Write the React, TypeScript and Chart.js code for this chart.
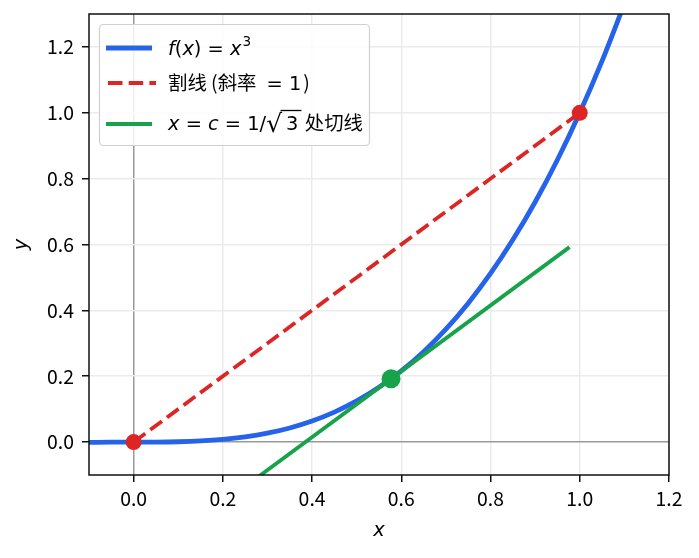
import React, { useEffect, useRef } from 'react';
import { Chart, registerables } from 'chart.js';
Chart.register(...registerables);

// f(x) = x^3
const curveX = [-0.1, -0.05, 0, 0.05, 0.1, 0.15, 0.2, 0.25, 0.3, 0.35, 0.4, 0.45, 0.5, 0.55, 0.6, 0.65, 0.7, 0.75, 0.8, 0.85, 0.9, 0.95, 1.0, 1.05, 1.1];
const curveY = [-0.001, -0.000125, 0, 0.000125, 0.001, 0.003375, 0.008, 0.015625, 0.027, 0.042875, 0.064, 0.091125, 0.125, 0.166375, 0.216, 0.274625, 0.343, 0.421875, 0.512, 0.614125, 0.729, 0.857375, 1.0, 1.157625, 1.331];
const secantX = [0, 1];
const secantY = [0, 1];
const tangentX = [0.177, 0.977];
const tangentY = [-0.208, 0.592];
const tangentPtX = [0.577];
const tangentPtY = [0.192];
const xTicks = [0, 0.2, 0.4, 0.6, 0.8, 1.0, 1.2];
const yTicks = [0, 0.2, 0.4, 0.6, 0.8, 1.0, 1.2];
const xTitle = 'x';
const yTitle = 'y';
const legendRow2a = '割线 (斜率';
const legendRow2b = ' = 1';
const legendRow2c = ')';
const legendRow3Tail = ' 处切线';

const BLUE = '#2563eb';
const RED = '#dc2626';
const GREEN = '#16a34a';
const CJK = '"Noto Sans CJK SC", "Noto Sans", sans-serif';
const MATH = '"DejaVu Sans", sans-serif';
const FS = 19.4;

const pts = (xs: number[], ys: number[]) => xs.map((x, i) => ({ x, y: ys[i] }));

type Seg = { t: string; f: string; dy?: number; over?: boolean; pre?: number };

function drawSegs(ctx: CanvasRenderingContext2D, segs: Seg[], x: number, y: number) {
  let cx = x;
  for (const s of segs) {
    const before = cx;
    cx += s.pre || 0;
    ctx.font = s.f;
    const w = ctx.measureText(s.t).width;
    ctx.fillText(s.t, cx, y + (s.dy || 0));
    if (s.over) {
      ctx.save();
      ctx.strokeStyle = '#000';
      ctx.lineWidth = 1.3;
      ctx.beginPath();
      ctx.moveTo(before - 1.5, y - 19.5);
      ctx.lineTo(cx + w + 3, y - 19.5);
      ctx.stroke();
      ctx.restore();
    }
    cx += w;
  }
}

const framePlugin = {
  id: 'frame',
  afterDraw(chart: any) {
    const { ctx, chartArea: a } = chart;
    ctx.save();
    ctx.strokeStyle = '#111';
    ctx.lineWidth = 1.5;
    ctx.strokeRect(a.left, a.top, a.right - a.left, a.bottom - a.top);

    // legend
    const bx = 99, by = 24, bw = 270, bh = 121, r = 4;
    ctx.fillStyle = 'rgba(255,255,255,0.85)';
    ctx.strokeStyle = '#d0d0d0';
    ctx.lineWidth = 1.2;
    ctx.beginPath();
    ctx.roundRect(bx + 0.5, by + 0.5, bw, bh, r);
    ctx.fill();
    ctx.stroke();

    const lx0 = 106, lx1 = 152, tx = 168;
    const rows = [48, 83, 124];
    ctx.lineCap = 'butt';
    ctx.lineWidth = 4.8;
    ctx.strokeStyle = BLUE;
    ctx.beginPath(); ctx.moveTo(lx0, rows[0]); ctx.lineTo(lx1, rows[0]); ctx.stroke();
    ctx.lineWidth = 3.8;
    ctx.strokeStyle = RED;
    ctx.setLineDash([14.5, 6.2]);
    ctx.beginPath(); ctx.moveTo(lx0 + 2, rows[1]); ctx.lineTo(lx1 + 4, rows[1]); ctx.stroke();
    ctx.setLineDash([]);
    ctx.strokeStyle = GREEN;
    ctx.beginPath(); ctx.moveTo(lx0, rows[2]); ctx.lineTo(lx1, rows[2]); ctx.stroke();

    ctx.fillStyle = '#000';
    ctx.textBaseline = 'alphabetic';
    ctx.textAlign = 'left';
    const it = `italic ${FS}px ${MATH}`;
    const nm = `${FS}px ${MATH}`;
    const cj = `${FS}px ${CJK}`;
    drawSegs(ctx, [
      { t: 'f', f: it }, { t: '(', f: nm }, { t: 'x', f: it }, { t: ')', f: nm },
      { t: ' = ', f: nm }, { t: 'x', f: it }, { t: '3', f: `${FS * 0.7}px ${MATH}`, dy: -9, pre: 1 },
    ], tx, 55);
    drawSegs(ctx, [
      { t: legendRow2a, f: cj }, { t: legendRow2b, f: nm, pre: 4 }, { t: legendRow2c, f: cj, pre: 2 },
    ], tx, 90);
    drawSegs(ctx, [
      { t: 'x', f: it }, { t: ' = ', f: nm }, { t: 'c', f: it }, { t: ' = 1/', f: nm },
      { t: '√', f: `25px ${MATH}`, dy: 1.5 }, { t: '3', f: nm, over: true, pre: 4 }, { t: legendRow3Tail, f: cj, pre: 2 },
    ], tx, 130);
    ctx.restore();
  },
};

export default function App() {
  const ref = useRef<HTMLCanvasElement>(null);
  useEffect(() => {
    document.body.style.margin = '0';
    const gridColor = (c: any) => (c.tick && Math.abs(c.tick.value) < 1e-9 ? '#999999' : '#ebebeb');
    const chart = new Chart(ref.current as HTMLCanvasElement, {
      type: 'scatter',
      data: {
        datasets: [
          { data: pts(secantX, secantY), showLine: false, pointRadius: 8, pointBackgroundColor: RED, pointBorderColor: RED, pointBorderWidth: 0, order: 0 },
          { data: pts(tangentPtX, tangentPtY), showLine: false, pointRadius: 9.5, pointBackgroundColor: GREEN, pointBorderColor: GREEN, pointBorderWidth: 0, order: 0 },
          { data: pts(tangentX, tangentY), showLine: true, borderColor: GREEN, borderWidth: 3.8, pointRadius: 0, order: 1 },
          { data: pts(secantX, secantY), showLine: true, borderColor: RED, borderWidth: 3.8, borderDash: [14.5, 6.2], pointRadius: 0, order: 2 },
          { data: pts(curveX, curveY), showLine: true, borderColor: BLUE, borderWidth: 4.8, pointRadius: 0, cubicInterpolationMode: 'monotone', order: 3 },
        ],
      },
      options: {
        animation: false,
        responsive: false,
        layout: { padding: { left: 0, top: 14, right: 30, bottom: 0 } },
        plugins: { legend: { display: false }, tooltip: { enabled: false } },
        scales: {
          x: {
            type: 'linear', min: -0.1, max: 1.2,
            afterBuildTicks: (s: any) => { s.ticks = xTicks.map((v) => ({ value: v })); },
            afterFit: (s: any) => { s.height = 83; s.paddingLeft = 0; s.paddingRight = 0; },
            grid: { color: gridColor, lineWidth: 1.5, tickColor: '#111', tickLength: 7, tickWidth: 1.5 },
            border: { display: false },
            ticks: { color: '#000', font: { family: CJK, size: FS }, padding: 5, callback: (v: any) => Number(v).toFixed(1), maxRotation: 0 },
            title: { display: true, text: xTitle, color: '#000', font: { family: MATH, size: FS, style: 'italic' }, padding: { top: 0, bottom: 15 } },
          },
          y: {
            type: 'linear', min: -0.1, max: 1.3,
            afterBuildTicks: (s: any) => { s.ticks = yTicks.map((v) => ({ value: v })); },
            afterFit: (s: any) => { s.width = 89; s.paddingTop = 0; s.paddingBottom = 0; },
            grid: { color: gridColor, lineWidth: 1.5, tickColor: '#111', tickLength: 7, tickWidth: 1.5 },
            border: { display: false },
            ticks: { color: '#000', font: { family: CJK, size: FS }, padding: 8, callback: (v: any) => Number(v).toFixed(1) },
            title: { display: true, text: yTitle, color: '#000', font: { family: MATH, size: FS, style: 'italic' }, padding: { top: 10, bottom: 0 } },
          },
        },
      },
      plugins: [framePlugin],
    } as any);
    return () => chart.destroy();
  }, []);
  return (
    <div style={{ width: 699, height: 558 }}>
      <canvas ref={ref} width={699} height={558} style={{ display: 'block' }} />
    </div>
  );
}
